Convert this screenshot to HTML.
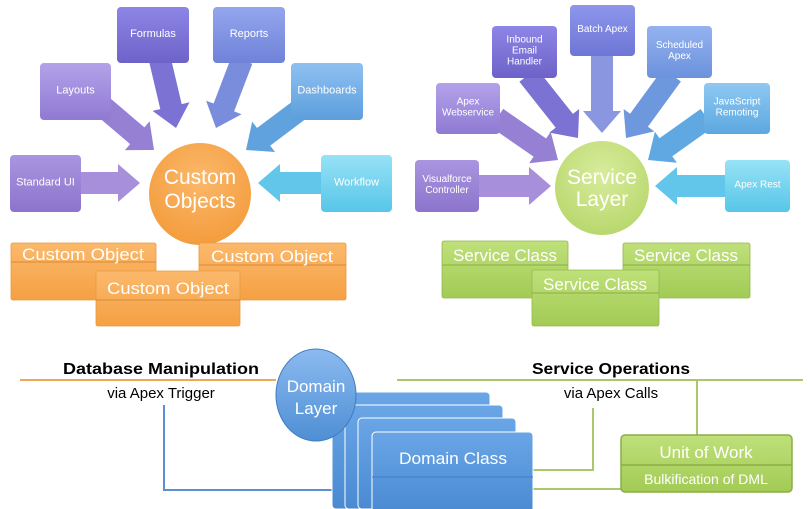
<!DOCTYPE html>
<html><head><meta charset="utf-8"><style>
html,body{margin:0;padding:0;background:#fff;}
svg{display:block;font-family:"Liberation Sans",sans-serif;}
</style></head><body>
<svg id="s" width="808" height="509" viewBox="0 0 808 509" xmlns="http://www.w3.org/2000/svg">
<defs>
<radialGradient id="gO" cx="0.5" cy="0.35" r="0.7"><stop offset="0" stop-color="#fbb86a"/><stop offset="1" stop-color="#f39a3a"/></radialGradient>
<radialGradient id="gG" cx="0.5" cy="0.35" r="0.7"><stop offset="0" stop-color="#d8ec9c"/><stop offset="1" stop-color="#b6d66a"/></radialGradient>
<linearGradient id="gB" x1="0" y1="0" x2="0" y2="1"><stop offset="0" stop-color="#8cbaf0"/><stop offset="1" stop-color="#4e8fd4"/></linearGradient>
<linearGradient id="gOb" x1="0" y1="0" x2="0" y2="1"><stop offset="0" stop-color="#fbb96c"/><stop offset="1" stop-color="#f5a043"/></linearGradient>
<linearGradient id="gGb" x1="0" y1="0" x2="0" y2="1"><stop offset="0" stop-color="#bfe07a"/><stop offset="1" stop-color="#a2cb55"/></linearGradient>
<linearGradient id="gDb" x1="0" y1="0" x2="0" y2="1"><stop offset="0" stop-color="#6aa6e6"/><stop offset="1" stop-color="#4a8ad2"/></linearGradient>
</defs>
<g id="arrows"></g>
<g id="boxes"></g>

<circle cx="200" cy="194" r="51" fill="url(#gO)"/>
<text x="200" y="184" font-size="21" fill="#fff" text-anchor="middle">Custom</text>
<text x="200" y="208" font-size="21" fill="#fff" text-anchor="middle">Objects</text>

<circle cx="602" cy="188" r="47" fill="url(#gG)"/>
<text x="602" y="184" font-size="21" fill="#fff" text-anchor="middle">Service</text>
<text x="602" y="206" font-size="21" fill="#fff" text-anchor="middle">Layer</text>

<g fill="url(#gOb)" stroke="#e99a3e" stroke-width="0.8">
<rect x="11" y="243" width="145" height="57" rx="2"/>
<rect x="199" y="243" width="147" height="57" rx="2"/>
</g>
<line x1="11" y1="262" x2="156" y2="262" stroke="#d98a34"/>
<line x1="199" y1="265" x2="346" y2="265" stroke="#d98a34"/>
<text x="83" y="260" font-size="17" fill="#fff" text-anchor="middle" textLength="122" lengthAdjust="spacingAndGlyphs">Custom Object</text>
<text x="272" y="262" font-size="17" fill="#fff" text-anchor="middle" textLength="122" lengthAdjust="spacingAndGlyphs">Custom Object</text>
<rect x="96" y="271" width="144" height="55" rx="2" fill="url(#gOb)" stroke="#e99a3e" stroke-width="0.8"/>
<line x1="96" y1="300" x2="240" y2="300" stroke="#d98a34"/>
<text x="168" y="294" font-size="17" fill="#fff" text-anchor="middle" textLength="122" lengthAdjust="spacingAndGlyphs">Custom Object</text>

<g fill="url(#gGb)" stroke="#93b94c" stroke-width="0.8">
<rect x="442" y="241" width="126" height="57" rx="2"/>
<rect x="623" y="243" width="127" height="55" rx="2"/>
</g>
<line x1="442" y1="265" x2="568" y2="265" stroke="#8aae45"/>
<line x1="623" y1="265" x2="750" y2="265" stroke="#8aae45"/>
<text x="505" y="261" font-size="17" fill="#fff" text-anchor="middle" textLength="104" lengthAdjust="spacingAndGlyphs">Service Class</text>
<text x="686" y="261" font-size="17" fill="#fff" text-anchor="middle" textLength="104" lengthAdjust="spacingAndGlyphs">Service Class</text>
<rect x="532" y="270" width="127" height="56" rx="2" fill="url(#gGb)" stroke="#93b94c" stroke-width="0.8"/>
<line x1="532" y1="293" x2="659" y2="293" stroke="#8aae45"/>
<text x="595" y="290" font-size="17" fill="#fff" text-anchor="middle" textLength="104" lengthAdjust="spacingAndGlyphs">Service Class</text>

<line x1="20" y1="380" x2="276" y2="380" stroke="#f2a65a" stroke-width="2"/>
<line x1="397" y1="380" x2="803" y2="380" stroke="#a8c86a" stroke-width="2"/>
<text x="161" y="374" font-size="16" font-weight="bold" text-anchor="middle" fill="#000" textLength="196" lengthAdjust="spacingAndGlyphs">Database Manipulation</text>
<text x="161" y="398" font-size="15" text-anchor="middle" fill="#000">via Apex Trigger</text>
<text x="611" y="374" font-size="16" font-weight="bold" text-anchor="middle" fill="#000" textLength="158" lengthAdjust="spacingAndGlyphs">Service Operations</text>
<text x="611" y="398" font-size="15" text-anchor="middle" fill="#000">via Apex Calls</text>

<polyline points="164,405 164,490 361,490" fill="none" stroke="#5b8fcf" stroke-width="2"/>
<polyline points="533,470 593,470 593,408" fill="none" stroke="#a8c86a" stroke-width="2"/>
<polyline points="533,489 621,489" fill="none" stroke="#a8c86a" stroke-width="2"/>
<line x1="697" y1="380" x2="697" y2="435" stroke="#a8c86a" stroke-width="2"/>

<g stroke="#fff" stroke-width="1">
<rect x="332" y="392" width="158" height="117" rx="4" fill="url(#gDb)"/>
<rect x="345" y="405" width="158" height="104" rx="4" fill="url(#gDb)"/>
<rect x="358" y="418" width="158" height="91" rx="4" fill="url(#gDb)"/>
<rect x="372" y="432" width="161" height="80" rx="4" fill="url(#gDb)"/>
</g>
<line x1="372" y1="477" x2="533" y2="477" stroke="#3f7cc0" stroke-width="1"/>
<text x="453" y="464" font-size="17" fill="#fff" text-anchor="middle" textLength="108" lengthAdjust="spacingAndGlyphs">Domain Class</text>

<ellipse cx="316" cy="395" rx="40" ry="46" fill="url(#gB)" stroke="#3f7cc0" stroke-width="1"/>
<text x="316" y="392" font-size="17" fill="#fff" text-anchor="middle">Domain</text>
<text x="316" y="414" font-size="17" fill="#fff" text-anchor="middle">Layer</text>

<rect x="621" y="435" width="171" height="57" rx="4" fill="url(#gGb)" stroke="#8aae45" stroke-width="1.5"/>
<line x1="621" y1="465" x2="792" y2="465" stroke="#8aae45" stroke-width="1.5"/>
<text x="706" y="458" font-size="17" fill="#fff" text-anchor="middle">Unit of Work</text>
<text x="706" y="484" font-size="14" fill="#fff" text-anchor="middle">Bulkification of DML</text>
</svg>
<script>
var NS="http://www.w3.org/2000/svg";
var A=document.getElementById("arrows"),B=document.getElementById("boxes");
function arrow(x1,y1,x2,y2,c){
 var dx=x2-x1,dy=y2-y1,L=Math.hypot(dx,dy),ux=dx/L,uy=dy/L,px=-uy,py=ux;
 var sw=11,hw=19,hl=22,bx=x2-ux*hl,by=y2-uy*hl;
 var p=[[x1+px*sw,y1+py*sw],[bx+px*sw,by+py*sw],[bx+px*hw,by+py*hw],[x2,y2],[bx-px*hw,by-py*hw],[bx-px*sw,by-py*sw],[x1-px*sw,y1-py*sw]];
 var e=document.createElementNS(NS,"polygon");
 e.setAttribute("points",p.map(function(q){return q[0].toFixed(1)+","+q[1].toFixed(1)}).join(" "));
 e.setAttribute("fill",c);A.appendChild(e);
}
function box(x,y,w,h,c1,c2,lines,fs){
 var id="g"+Math.random().toString(36).slice(2);
 var g=document.createElementNS(NS,"linearGradient");g.setAttribute("id",id);g.setAttribute("x1","0");g.setAttribute("y1","0");g.setAttribute("x2","0");g.setAttribute("y2","1");
 g.innerHTML='<stop offset="0" stop-color="'+c1+'"/><stop offset="1" stop-color="'+c2+'"/>';
 document.querySelector("defs").appendChild(g);
 var r=document.createElementNS(NS,"rect");
 r.setAttribute("x",x);r.setAttribute("y",y);r.setAttribute("width",w);r.setAttribute("height",h);r.setAttribute("rx",4);r.setAttribute("fill","url(#"+id+")");B.appendChild(r);
 var lh=fs+1,sy=y+h/2-(lines.length-1)*lh/2+fs*0.35-2;
 lines.forEach(function(t,i){var e=document.createElementNS(NS,"text");e.setAttribute("x",x+w/2);e.setAttribute("y",sy+i*lh);e.setAttribute("font-size",fs);e.setAttribute("fill","#fff");e.setAttribute("text-anchor","middle");e.textContent=t;B.appendChild(e);});
}
arrow(78,183,140,183,"#a88fdc");
arrow(100,104,154,150,"#9580d4");
arrow(160,60,176,128,"#7b72d4");
arrow(242,60,216,128,"#7a8cdc");
arrow(302,108,246,150,"#5fa2de");
arrow(324,183,258,183,"#62c6ea");
arrow(476,186,551,186,"#a88fdc");
arrow(497,118,558,160,"#9580d4");
arrow(528,75,578,138,"#7b72d4");
arrow(602,53,602,133,"#8a96e0");
arrow(672,75,626,138,"#6e98de");
arrow(707,118,648,160,"#5fa8e2");
arrow(728,186,655,186,"#62c6ea");
box(117,7,72,56,"#8d86e6","#6e62c8",["Formulas"],11);
box(213,7,72,56,"#94a6ee","#6f82d8",["Reports"],11);
box(40,63,71,57,"#b3a2ea","#8f7ad2",["Layouts"],11);
box(291,63,72,57,"#8fc0f2","#5c9fdc",["Dashboards"],11);
box(10,155,71,57,"#a995e0","#8c74cc",["Standard UI"],11);
box(321,155,71,57,"#97e2f6","#57c6e8",["Workflow"],11);
box(415,160,64,52,"#a995e0","#8c74cc",["Visualforce","Controller"],10);
box(436,83,64,51,"#b3a2ea","#8f7ad2",["Apex","Webservice"],10);
box(492,26,65,52,"#8d86e6","#6e62c8",["Inbound","Email","Handler"],10);
box(570,5,65,51,"#8d96ec","#6e76d6",["Batch Apex"],10);
box(647,26,65,52,"#94b2f0","#6b92dc",["Scheduled","Apex"],10);
box(704,83,66,51,"#8fc8f2","#5ca8e0",["JavaScript","Remoting"],10);
box(725,160,65,52,"#97e2f6","#57c6e8",["Apex Rest"],10);
</script>
</body></html>
